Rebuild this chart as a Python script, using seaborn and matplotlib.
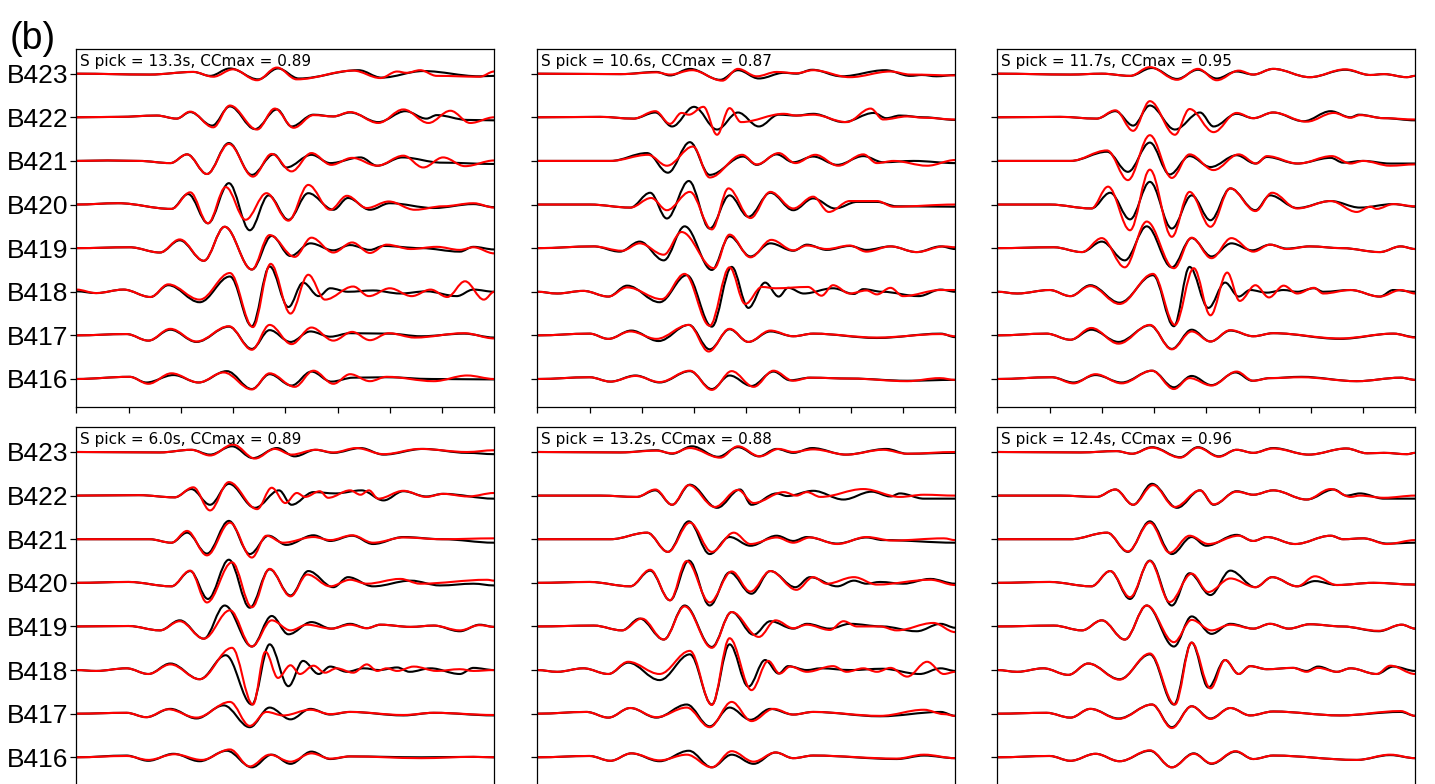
import matplotlib
matplotlib.use("Agg")
import matplotlib.pyplot as plt
from matplotlib.path import Path
from matplotlib.patches import PathPatch
import seaborn as sns

# ---------------------------------------------------------------- data ----
STATIONS = ["B416", "B417", "B418", "B419", "B420", "B421", "B422", "B423"]
S_PICKS = [13.3, 10.6, 11.7, 6.0, 13.2, 12.4]
CC_MAX = [0.89, 0.87, 0.95, 0.89, 0.88, 0.96]
TIME_TICKS = [0, 5, 10, 15, 20, 25, 30, 35, 40]

# each trace: (times of extrema [s], normalised amplitude at those extrema)
P1_OBS = {
    "B423": ([0, 7, 11.2, 12.8, 14.7, 17.4, 19.3, 21.3, 27.0, 29.2, 33.2, 38.6, 40],
             [0, -0.02, 0.04, -0.05, 0.12, -0.13, 0.12, -0.11, 0.08, -0.09, 0.06, -0.06, -0.05]),
    "B422": ([0, 4, 7.7, 9.6, 10.9, 13.0, 14.7, 17.1, 19.2, 20.6, 22.7, 24.6, 26.2, 28.9, 31.5, 33.5, 34.5, 37.4, 40],
             [0, 0.01, 0.04, -0.03, 0.12, -0.19, 0.25, -0.27, 0.18, -0.21, 0.06, 0.02, 0.11, -0.11, 0.14, -0.03, 0.05, -0.06, -0.07]),
    "B421": ([0, 3, 6, 9.0, 10.6, 12.5, 14.6, 16.8, 18.9, 20.1, 22.5, 24.3, 27.2, 28.8, 31.2, 35, 40],
             [0, 0.01, 0.0, -0.05, 0.15, -0.3, 0.41, -0.32, 0.15, -0.15, 0.14, -0.05, 0.08, -0.11, 0.08, -0.04, -0.07]),
    "B420": ([0, 4, 9.1, 10.7, 12.6, 14.6, 16.6, 18.4, 20.3, 22.2, 24.6, 26.0, 28.1, 30.0, 34.2, 38.0, 40],
             [0, 0.03, -0.1, 0.24, -0.43, 0.49, -0.59, 0.21, -0.35, 0.26, -0.12, 0.15, -0.12, 0.03, -0.08, 0.01, -0.06]),
    "B419": ([0, 5.1, 8.0, 9.9, 12.2, 14.2, 16.8, 18.7, 20.5, 22.4, 24.6, 26.2, 28.1, 29.4, 33, 36.7, 38.0, 40],
             [0, 0.02, -0.1, 0.18, -0.29, 0.49, -0.49, 0.28, -0.18, 0.11, -0.05, 0.07, -0.04, 0.05, 0.0, -0.08, 0.03, -0.03]),
    "B418": ([0, 1.9, 4.5, 7.1, 8.8, 11.8, 14.7, 16.8, 18.5, 20.3, 21.7, 23.2, 24.3, 26.0, 28.4, 31.0, 33.5, 36.4, 38.0, 40],
             [0.01, -0.03, 0.05, -0.12, 0.15, -0.24, 0.35, -0.79, 0.58, -0.35, 0.21, -0.1, 0.08, 0.0, 0.03, -0.04, 0.01, -0.1, 0.05, 0.0]),
    "B417": ([0, 4.8, 6.9, 9.0, 11.5, 14.6, 16.8, 18.5, 20.5, 22.4, 24.3, 26.2, 29.9, 33, 37.1, 40],
             [0, 0.03, -0.12, 0.13, -0.15, 0.2, -0.31, 0.12, -0.15, 0.09, -0.03, 0.05, 0.04, -0.02, 0.04, -0.05]),
    "B416": ([0, 5.1, 6.7, 9.3, 11.7, 14.4, 16.8, 18.5, 20.6, 22.5, 24.4, 26.5, 29.7, 34, 40],
             [0, 0.05, -0.08, 0.09, -0.08, 0.18, -0.23, 0.11, -0.15, 0.17, -0.06, 0.03, 0.04, 0.0, -0.01]),
}
P1_SYN = {
    "B423": ([0, 7, 11.2, 13.1, 15.0, 17.3, 19.2, 21.1, 26.5, 29.1, 30.7, 31.6, 32.9, 34.5, 38.6, 40],
             [0, -0.02, 0.04, -0.07, 0.1, -0.15, 0.14, -0.13, 0.07, -0.1, 0.05, 0.02, 0.08, -0.05, -0.07, 0.05]),
    "B422": ([0, 4, 7.7, 9.6, 10.9, 13.1, 14.7, 17.3, 19.0, 20.8, 22.7, 24.6, 26.2, 28.9, 31.3, 33.7, 35.8, 37.7, 40],
             [0, 0.01, 0.04, -0.03, 0.13, -0.23, 0.27, -0.28, 0.2, -0.24, 0.05, 0.02, 0.12, -0.13, 0.18, -0.13, 0.15, -0.13, 0.0]),
    "B421": ([0, 3, 6, 9.0, 10.6, 12.5, 14.6, 16.9, 18.7, 20.6, 22.5, 24.4, 26.4, 28.8, 31.3, 33.2, 35.1, 37.2, 40],
             [0, 0.01, 0.0, -0.05, 0.15, -0.3, 0.39, -0.36, 0.16, -0.24, 0.18, -0.09, 0.07, -0.11, 0.12, -0.15, 0.08, -0.12, 0.01]),
    "B420": ([0, 4, 9.1, 10.9, 12.6, 14.3, 16.2, 18.2, 20.3, 22.2, 24.3, 25.9, 27.8, 29.9, 32.4, 35.1, 38.0, 40],
             [0, 0.03, -0.1, 0.28, -0.43, 0.4, -0.35, 0.26, -0.37, 0.45, -0.12, 0.2, -0.08, 0.07, -0.12, -0.04, 0.03, -0.07]),
    "B419": ([0, 5.1, 8.0, 9.9, 12.2, 14.2, 16.8, 18.5, 20.9, 22.5, 24.6, 26.4, 28.1, 29.7, 32.0, 34.5, 36.7, 38.0, 40],
             [0, 0.02, -0.1, 0.2, -0.29, 0.49, -0.49, 0.3, -0.2, 0.24, -0.1, 0.13, -0.11, 0.08, -0.02, 0.03, -0.04, 0.02, -0.12]),
    "B418": ([0, 1.9, 4.5, 7.1, 8.8, 11.8, 14.7, 16.9, 18.6, 20.5, 22.2, 23.8, 26.5, 28.0, 30.0, 32.1, 33.9, 35.5, 37.2, 39.0, 40],
             [0.05, -0.03, 0.05, -0.12, 0.17, -0.18, 0.43, -0.81, 0.64, -0.5, 0.39, -0.18, 0.12, -0.1, 0.08, -0.1, 0.05, -0.12, 0.24, -0.18, 0.0]),
    "B417": ([0, 4.8, 6.9, 9.0, 11.5, 14.6, 16.8, 18.5, 20.6, 22.5, 24.6, 26.4, 28.1, 29.9, 32.4, 37.1, 40],
             [0, 0.03, -0.12, 0.15, -0.14, 0.21, -0.33, 0.24, -0.2, 0.18, -0.12, 0.08, -0.11, 0.05, -0.05, 0.05, -0.07]),
    "B416": ([0, 5.1, 6.9, 9.1, 11.7, 14.1, 16.8, 18.5, 20.9, 22.7, 24.6, 26.2, 28.1, 29.7, 34.2, 37.4, 40],
             [0, 0.05, -0.11, 0.13, -0.08, 0.15, -0.24, 0.13, -0.18, 0.19, -0.11, 0.11, -0.05, 0.05, -0.05, 0.08, 0.0]),
}

P2_OBS = {
    "B423": ([0, 8, 11.4, 12.7, 14.6, 17.5, 19.2, 21.2, 23.6, 24.8, 26.3, 29.1, 33.3, 35.7, 36.8, 38.2, 40],
             [0, -0.01, 0.04, -0.04, 0.11, -0.14, 0.08, -0.11, 0.02, 0.0, 0.09, -0.06, 0.08, -0.05, -0.03, -0.06, -0.03]),
    "B422": ([0, 6, 9.2, 11.3, 12.9, 15.0, 17.2, 19.2, 21.2, 23.1, 24.8, 26.4, 29.3, 32.2, 33.4, 34.7, 37.0, 40],
             [0, 0.01, -0.03, 0.11, -0.21, 0.24, -0.28, 0.11, -0.21, 0.06, 0.04, 0.08, -0.11, 0.1, -0.02, 0.04, 0.0, -0.06]),
    "B421": ([0, 7, 10.5, 12.5, 14.6, 16.5, 19.7, 21.0, 22.9, 24.5, 26.4, 28.7, 31.2, 33.1, 36, 40],
             [0, 0.0, 0.18, -0.27, 0.43, -0.32, 0.1, -0.09, 0.15, -0.03, 0.1, -0.09, 0.11, -0.03, 0.0, -0.05]),
    "B420": ([0, 5, 8.9, 10.8, 12.4, 14.5, 16.5, 18.4, 20.2, 22.3, 24.5, 26.4, 28.5, 30.6, 32.5, 34.4, 40],
             [0, 0.0, -0.07, 0.27, -0.32, 0.54, -0.55, 0.21, -0.28, 0.27, -0.13, 0.14, -0.09, 0.06, 0.06, -0.04, -0.05]),
    "B419": ([0, 5.4, 7.9, 9.8, 12.1, 14.1, 16.7, 18.4, 20.4, 22.3, 24.5, 25.8, 27.7, 29.9, 31.5, 33.8, 36.3, 38.6, 40],
             [0, 0.04, -0.08, 0.15, -0.28, 0.5, -0.5, 0.27, -0.19, 0.11, -0.06, 0.08, -0.04, 0.05, -0.04, 0.04, -0.09, 0.04, -0.02]),
    "B418": ([0, 1.9, 4.4, 6.8, 8.6, 11.7, 14.3, 16.7, 18.6, 20.2, 21.8, 23.1, 24.0, 25.5, 28.3, 30.3, 31.2, 33, 36.5, 38.6, 40],
             [0, -0.04, 0.02, -0.11, 0.14, -0.24, 0.38, -0.8, 0.57, -0.37, 0.21, -0.11, 0.09, -0.04, 0.08, -0.05, 0.06, 0.0, -0.1, 0.05, 0.0]),
    "B417": ([0, 5.0, 6.8, 9.0, 11.6, 14.5, 16.5, 18.4, 20.2, 22.3, 24.5, 26.4, 32.5, 38.6, 40],
             [0, 0.04, -0.08, 0.11, -0.13, 0.24, -0.32, 0.14, -0.15, 0.09, -0.02, 0.04, -0.06, 0.04, -0.04]),
    "B416": ([0, 5.0, 7.0, 9.4, 11.7, 14.6, 16.7, 18.4, 20.5, 22.6, 24.2, 26.1, 30, 35.4, 40],
             [0, 0.04, -0.06, 0.08, -0.08, 0.18, -0.23, 0.08, -0.16, 0.17, -0.03, 0.03, 0.01, -0.04, -0.02]),
}
P2_SYN = {
    "B423": ([0, 8, 11.4, 12.7, 14.8, 17.7, 19.2, 21.0, 22.9, 24.8, 26.4, 29.9, 33.8, 35.7, 40],
             [0, -0.01, 0.03, -0.02, 0.08, -0.16, 0.11, -0.06, 0.04, 0.01, 0.08, -0.08, 0.05, -0.02, -0.04]),
    "B422": ([0, 6, 9.2, 11.3, 12.7, 13.8, 14.5, 15.9, 17.2, 18.4, 19.5, 23.6, 24.8, 26.4, 29.6, 31.9, 33.1, 35.4, 37.0, 40],
             [0, 0.01, -0.03, 0.14, -0.15, 0.1, 0.06, 0.24, -0.4, 0.21, -0.11, 0.08, 0.04, 0.06, -0.11, 0.2, -0.05, 0.02, -0.01, -0.05]),
    "B421": ([0, 7, 10.6, 12.4, 14.9, 16.5, 19.6, 21.0, 23.1, 24.7, 26.6, 28.8, 31.2, 32.5, 34.1, 37.3, 40],
             [0, 0.0, 0.14, -0.11, 0.33, -0.38, 0.14, -0.08, 0.18, -0.05, 0.14, -0.11, 0.15, -0.05, 0.0, -0.11, 0.02]),
    "B420": ([0, 5, 8.9, 10.9, 12.4, 14.6, 16.7, 18.3, 20.4, 22.3, 24.5, 26.4, 27.9, 29.9, 32.5, 34.1, 40],
             [0, 0.0, -0.07, 0.15, -0.13, 0.29, -0.57, 0.37, -0.31, 0.29, -0.09, 0.18, -0.17, 0.08, 0.08, -0.05, 0.0]),
    "B419": ([0, 5.4, 8.1, 9.8, 12.1, 13.8, 16.9, 18.4, 20.4, 22.4, 24.5, 25.8, 27.7, 29.9, 31.5, 33.8, 36.3, 38.9, 40],
             [0, 0.04, -0.06, 0.11, -0.15, 0.37, -0.46, 0.31, -0.21, 0.19, -0.05, 0.06, -0.02, 0.06, -0.08, 0.04, -0.09, 0.04, 0.02]),
    "B418": ([0, 1.9, 4.4, 6.8, 8.6, 11.9, 14.1, 16.5, 18.4, 19.9, 21.5, 22.8, 25.9, 27.2, 28.3, 29.9, 31.5, 32.5, 33.8, 35.0, 38.6, 40],
             [0, -0.04, 0.02, -0.11, 0.1, -0.17, 0.41, -0.78, 0.56, -0.28, 0.11, 0.08, 0.11, -0.09, 0.15, -0.04, 0.03, -0.06, 0.09, -0.1, 0.04, 0.04]),
    "B417": ([0, 5.0, 6.8, 8.9, 11.4, 14.5, 16.4, 18.4, 20.2, 22.3, 24.5, 26.4, 32.5, 38.6, 40],
             [0, 0.04, -0.08, 0.09, -0.08, 0.24, -0.37, 0.15, -0.15, 0.11, -0.02, 0.04, -0.05, 0.03, -0.02]),
    "B416": ([0, 5.0, 7.0, 9.4, 11.7, 14.6, 16.7, 18.6, 20.7, 22.6, 24.5, 26.1, 30, 35.4, 38.5, 40],
             [0, 0.04, -0.06, 0.07, -0.07, 0.19, -0.25, 0.18, -0.18, 0.19, -0.04, 0.03, 0.01, -0.05, 0.02, -0.02]),
}

P3_OBS = {
    "B423": ([0, 7.0, 10, 12.7, 14.8, 17.2, 19.2, 21.0, 22.9, 24.5, 26.4, 29.9, 33.3, 35.7, 37, 39.2, 40],
             [0, -0.02, 0.0, -0.05, 0.13, -0.12, 0.09, -0.11, 0.05, -0.02, 0.11, -0.08, 0.09, -0.03, -0.01, -0.08, -0.05]),
    "B422": ([0, 6, 9.5, 11.3, 13.0, 14.6, 17.0, 19.4, 20.7, 22.9, 24.5, 26.4, 29.3, 31.9, 33.8, 34.6, 37.0, 40],
             [0, 0.01, -0.03, 0.14, -0.19, 0.27, -0.28, 0.11, -0.21, 0.08, -0.02, 0.11, -0.09, 0.14, 0.0, 0.06, -0.02, -0.07]),
    "B421": ([0, 7, 10.5, 12.5, 14.6, 16.5, 18.4, 20.4, 22.9, 24.7, 25.8, 28.7, 31.9, 33.1, 35, 37.6, 40],
             [0, 0.0, 0.21, -0.25, 0.42, -0.31, 0.11, -0.14, 0.13, -0.06, 0.09, -0.06, 0.07, -0.04, 0.0, -0.06, -0.06]),
    "B420": ([0, 5, 9.0, 10.8, 12.7, 14.6, 16.7, 18.6, 20.4, 22.3, 24.7, 26.1, 28.7, 31.9, 34.7, 37.9, 40],
             [0, 0.0, -0.09, 0.27, -0.34, 0.52, -0.55, 0.21, -0.36, 0.37, -0.13, 0.21, -0.08, 0.08, -0.07, 0.01, -0.05]),
    "B419": ([0, 5.4, 8.1, 10.0, 12.2, 14.3, 16.7, 18.6, 20.5, 22.4, 24.4, 26.1, 27.7, 29.9, 33, 36.6, 38.6, 40],
             [0, 0.02, -0.09, 0.15, -0.28, 0.5, -0.44, 0.23, -0.19, 0.11, -0.05, 0.08, -0.01, 0.04, 0.0, -0.09, 0.04, -0.02]),
    "B418": ([0, 1.9, 5.0, 7.0, 8.9, 11.7, 14.9, 16.9, 18.4, 20.2, 21.8, 23.1, 24.2, 25.8, 27.4, 28.7, 30.3, 31.2, 33.8, 36.6, 37.9, 40],
             [0, -0.04, 0.04, -0.1, 0.15, -0.25, 0.38, -0.79, 0.57, -0.37, 0.21, -0.11, 0.04, -0.02, 0.04, 0.0, 0.08, 0.0, 0.04, -0.11, 0.04, 0.0]),
    "B417": ([0, 4.7, 7.0, 9.0, 11.6, 14.6, 16.7, 18.6, 20.4, 22.3, 24.5, 26.4, 32.8, 37.9, 40],
             [0, 0.04, -0.1, 0.13, -0.15, 0.23, -0.31, 0.13, -0.14, 0.11, -0.02, 0.05, -0.08, 0.04, -0.04]),
    "B416": ([0, 5.2, 7.3, 9.4, 11.9, 14.8, 16.9, 18.6, 20.5, 22.8, 24.4, 26.1, 29.1, 34.4, 38.6, 40],
             [0, 0.04, -0.08, 0.09, -0.08, 0.19, -0.19, 0.07, -0.14, 0.15, -0.04, 0.02, 0.05, -0.05, 0.03, -0.02]),
}
P3_SYN = {
    "B423": ([0, 7.0, 10, 12.7, 14.6, 17.2, 19.2, 21.0, 23.1, 24.5, 26.4, 29.9, 33.3, 35.7, 37, 39.2, 40],
             [0, -0.02, 0.0, -0.05, 0.15, -0.14, 0.11, -0.15, 0.07, -0.02, 0.11, -0.08, 0.1, -0.03, -0.01, -0.08, -0.05]),
    "B422": ([0, 6, 9.5, 11.3, 13.0, 14.6, 17.0, 18.4, 20.7, 22.9, 24.5, 26.4, 29.6, 32.2, 33.8, 34.7, 37.0, 40],
             [0, 0.01, -0.03, 0.16, -0.31, 0.37, -0.4, 0.19, -0.34, 0.1, -0.02, 0.11, -0.1, 0.1, -0.01, 0.05, -0.02, -0.05]),
    "B421": ([0, 7, 10.5, 12.5, 14.6, 16.7, 18.4, 20.7, 23.1, 24.8, 25.8, 28.8, 32.0, 33.8, 35, 37.6, 40],
             [0, 0.0, 0.24, -0.44, 0.59, -0.39, 0.15, -0.21, 0.15, -0.06, 0.11, -0.06, 0.11, -0.06, 0.0, -0.11, -0.08]),
    "B420": ([0, 5, 9.0, 10.6, 12.7, 14.6, 16.7, 18.4, 20.4, 22.3, 24.7, 26.3, 28.7, 31.9, 34.4, 35.7, 36.3, 37.9, 40],
             [0, 0.0, -0.09, 0.41, -0.59, 0.8, -0.74, 0.29, -0.51, 0.37, -0.15, 0.27, -0.09, 0.08, -0.17, -0.05, -0.1, 0.01, -0.04]),
    "B419": ([0, 5.4, 8.1, 10.0, 12.2, 14.3, 16.9, 18.6, 20.5, 22.4, 24.5, 26.1, 27.7, 29.9, 33, 36.6, 38.6, 40],
             [0, 0.02, -0.09, 0.23, -0.44, 0.61, -0.46, 0.24, -0.23, 0.23, -0.08, 0.08, -0.02, 0.04, 0.0, -0.09, 0.04, -0.02]),
    "B418": ([0, 1.9, 5.0, 7.0, 8.9, 11.7, 14.9, 17.0, 18.8, 20.4, 22.0, 23.2, 24.7, 26.0, 27.4, 28.7, 30.3, 31.2, 33.8, 36.6, 38.6, 40],
             [0, -0.04, 0.04, -0.1, 0.13, -0.28, 0.41, -0.76, 0.54, -0.54, 0.44, -0.21, 0.15, -0.13, 0.14, -0.04, 0.09, -0.04, 0.04, -0.11, 0.04, -0.04]),
    "B417": ([0, 4.7, 7.0, 9.0, 11.6, 14.6, 16.7, 18.6, 20.4, 22.3, 24.5, 26.4, 32.8, 37.9, 40],
             [0, 0.04, -0.1, 0.17, -0.19, 0.24, -0.32, 0.09, -0.14, 0.12, -0.02, 0.05, -0.07, 0.04, -0.05]),
    "B416": ([0, 5.2, 7.3, 9.4, 11.9, 14.8, 16.9, 18.4, 20.5, 22.9, 24.5, 26.1, 29.1, 34.4, 38.6, 40],
             [0, 0.04, -0.1, 0.11, -0.1, 0.19, -0.23, 0.02, -0.15, 0.17, -0.04, 0.02, 0.04, -0.05, 0.03, -0.02]),
}

P4_OBS = {
    "B423": ([0, 8, 11.0, 12.8, 14.9, 16.9, 19.2, 20.9, 22.9, 24.6, 27.2, 29.4, 33.2, 37.4, 40],
             [0, -0.01, 0.05, -0.06, 0.13, -0.14, 0.09, -0.1, 0.05, -0.02, 0.09, -0.06, 0.07, -0.02, -0.05]),
    "B422": ([0, 6, 9.4, 11.0, 12.8, 14.6, 17.1, 19.4, 20.6, 22.7, 24.8, 27.3, 29.4, 31.3, 33.5, 35.1, 40],
             [0, 0.01, -0.04, 0.15, -0.21, 0.27, -0.28, 0.12, -0.21, 0.08, 0.05, 0.12, -0.11, 0.1, -0.02, 0.04, -0.07]),
    "B421": ([0, 7, 9.1, 10.6, 12.5, 14.6, 16.6, 18.4, 20.1, 22.7, 24.3, 26.4, 28.4, 31.3, 35, 40],
             [0, 0.0, -0.08, 0.15, -0.33, 0.42, -0.34, 0.08, -0.13, 0.09, -0.04, 0.08, -0.11, 0.05, 0.0, -0.08]),
    "B420": ([0, 5, 9.1, 10.9, 12.6, 14.6, 16.6, 18.5, 20.5, 22.2, 24.6, 26.0, 28.4, 32.0, 34.8, 38.0, 40],
             [0, 0.02, -0.08, 0.27, -0.37, 0.53, -0.57, 0.31, -0.29, 0.27, -0.1, 0.13, -0.08, 0.05, -0.06, -0.02, -0.06]),
    "B419": ([0, 5, 8.0, 9.9, 12.2, 14.2, 16.8, 18.7, 20.3, 22.5, 24.4, 26.2, 27.8, 29.1, 32.0, 34.2, 36.7, 38.6, 40],
             [0, 0.01, -0.09, 0.14, -0.28, 0.48, -0.46, 0.24, -0.18, 0.1, -0.05, 0.06, -0.04, 0.04, -0.01, 0.02, -0.11, 0.04, -0.01]),
    "B418": ([0, 1.9, 4.8, 6.9, 9.0, 11.8, 14.3, 16.8, 18.5, 20.3, 21.7, 23.2, 24.3, 25.9, 27.5, 29.0, 30.7, 31.9, 33.9, 36.7, 38.0, 40],
             [0, -0.02, 0.04, -0.09, 0.15, -0.21, 0.34, -0.79, 0.59, -0.37, 0.21, -0.09, 0.08, -0.04, 0.04, 0.0, 0.06, -0.04, 0.04, -0.09, 0.05, 0.0]),
    "B417": ([0, 4.8, 6.7, 9.0, 11.5, 14.1, 16.6, 18.5, 20.5, 22.4, 24.3, 26.2, 31.3, 34.2, 40],
             [0, 0.02, -0.08, 0.11, -0.11, 0.19, -0.31, 0.14, -0.13, 0.11, -0.02, 0.04, -0.04, 0.02, -0.04]),
    "B416": ([0, 4.8, 6.9, 9.3, 11.8, 14.4, 16.8, 18.7, 20.5, 22.5, 24.3, 26.2, 33, 38, 40],
             [0, 0.04, -0.08, 0.08, -0.09, 0.15, -0.23, 0.06, -0.15, 0.13, -0.04, 0.02, 0.0, 0.01, 0.0]),
}
P4_SYN = {
    "B423": ([0, 8, 11.0, 12.8, 15.0, 17.1, 19.0, 20.6, 22.9, 24.6, 26.8, 29.4, 32.9, 37.4, 40],
             [0, -0.01, 0.05, -0.08, 0.17, -0.15, 0.07, -0.06, 0.05, -0.01, 0.09, -0.05, 0.07, 0.0, 0.04]),
    "B422": ([0, 6, 9.4, 11.2, 12.8, 14.6, 17.3, 18.7, 20.0, 21.1, 21.9, 23.3, 24.1, 26.2, 27.2, 28.0, 28.9, 31.3, 33.5, 35.1, 37.5, 40],
             [0, 0.01, -0.04, 0.19, -0.34, 0.31, -0.31, 0.18, -0.17, 0.06, -0.03, 0.1, -0.05, 0.12, 0.02, 0.12, -0.07, 0.11, -0.03, 0.04, -0.02, 0.06]),
    "B421": ([0, 7, 9.1, 10.6, 12.5, 14.7, 16.8, 18.2, 19.8, 22.7, 24.3, 26.4, 28.4, 31.3, 35, 40],
             [0, 0.0, -0.08, 0.19, -0.37, 0.38, -0.42, 0.08, -0.08, 0.05, -0.02, 0.09, -0.08, 0.04, 0.0, 0.02]),
    "B420": ([0, 5, 9.1, 10.9, 12.5, 14.9, 16.8, 18.5, 20.5, 22.1, 24.3, 26.2, 27.8, 31.0, 32.9, 39.3, 40],
             [0, 0.02, -0.08, 0.28, -0.45, 0.47, -0.56, 0.32, -0.31, 0.19, -0.08, 0.07, -0.02, 0.09, -0.02, 0.07, 0.05]),
    "B419": ([0, 5, 8.0, 9.9, 12.2, 14.7, 16.8, 18.7, 20.5, 22.1, 24.4, 26.2, 27.8, 29.1, 32.0, 34.2, 36.7, 38.6, 40],
             [0, 0.01, -0.09, 0.12, -0.28, 0.37, -0.46, 0.14, -0.09, 0.04, -0.05, 0.04, -0.04, 0.04, -0.01, 0.02, -0.09, 0.03, -0.01]),
    "B418": ([0, 1.9, 4.8, 6.9, 9.0, 11.8, 14.9, 16.9, 18.1, 19.3, 20.5, 21.4, 22.7, 23.8, 24.9, 26.5, 27.8, 28.8, 29.7, 30.7, 32.3, 34.5, 36.7, 38.0, 40],
             [0, -0.02, 0.04, -0.09, 0.13, -0.21, 0.51, -0.79, 0.42, -0.18, 0.11, -0.09, 0.1, -0.06, 0.04, -0.06, 0.13, -0.02, 0.04, -0.02, 0.08, -0.02, 0.02, -0.02, 0.0]),
    "B417": ([0, 4.8, 6.7, 8.8, 11.5, 14.7, 16.6, 18.2, 19.8, 22.4, 24.3, 26.2, 31.3, 34.2, 40],
             [0, 0.02, -0.08, 0.1, -0.09, 0.27, -0.28, 0.04, -0.04, 0.09, -0.01, 0.04, -0.03, 0.02, -0.03]),
    "B416": ([0, 4.8, 6.9, 9.4, 12.0, 14.7, 16.6, 18.5, 20.5, 22.5, 24.3, 26.2, 33, 38, 40],
             [0, 0.03, -0.06, 0.07, -0.06, 0.18, -0.21, 0.06, -0.1, 0.09, -0.03, 0.02, -0.02, 0.01, 0.0]),
}

P5_OBS = {
    "B423": ([0, 8, 11.4, 12.9, 14.8, 17.3, 19.2, 21.2, 22.9, 24.5, 26.3, 29.5, 33.4, 35.4, 40],
             [0, -0.01, 0.04, -0.04, 0.13, -0.11, 0.11, -0.1, 0.07, -0.02, 0.09, -0.06, 0.07, -0.04, -0.02]),
    "B422": ([0, 6, 9.5, 11.3, 12.9, 14.6, 17.2, 19.4, 20.5, 22.9, 23.9, 26.4, 29.3, 32.0, 33.8, 34.7, 37.0, 40],
             [0, 0.0, -0.03, 0.12, -0.21, 0.25, -0.28, 0.14, -0.21, 0.05, -0.01, 0.11, -0.09, 0.09, -0.02, 0.05, -0.07, -0.07]),
    "B421": ([0, 7, 10.5, 12.5, 14.5, 16.5, 18.4, 20.4, 22.9, 24.5, 25.8, 28.7, 31.5, 33.1, 40],
             [0, 0.0, 0.15, -0.29, 0.41, -0.34, 0.05, -0.15, 0.08, -0.04, 0.05, -0.1, 0.04, -0.02, -0.08]),
    "B420": ([0, 5, 8.9, 10.8, 12.7, 14.5, 16.5, 18.4, 20.5, 22.3, 24.7, 26.1, 28.7, 30.3, 31.5, 32.8, 35, 37.6, 40],
             [0, 0.02, -0.08, 0.28, -0.4, 0.51, -0.52, 0.24, -0.25, 0.27, -0.1, 0.13, -0.08, 0.05, -0.02, 0.02, -0.02, 0.09, -0.02]),
    "B419": ([0, 5.4, 8.1, 9.8, 12.1, 14.1, 16.7, 18.6, 20.7, 22.3, 24.5, 25.8, 28.0, 29.9, 33, 36.3, 38.6, 40],
             [0, 0.02, -0.09, 0.18, -0.3, 0.48, -0.47, 0.33, -0.19, 0.12, -0.05, 0.06, -0.05, 0.06, 0.0, -0.11, 0.06, -0.03]),
    "B418": ([0, 1.9, 4.4, 6.8, 8.7, 11.7, 14.6, 16.7, 18.4, 20.2, 21.8, 23.1, 24.0, 25.8, 27.1, 30, 33, 36.6, 38.6, 40],
             [0, -0.04, 0.04, -0.09, 0.17, -0.23, 0.36, -0.79, 0.59, -0.38, 0.23, -0.08, 0.09, 0.0, 0.04, 0.0, 0.03, -0.09, 0.04, -0.02]),
    "B417": ([0, 4.7, 6.8, 8.9, 11.4, 14.3, 16.5, 18.4, 20.4, 22.3, 24.5, 26.4, 32.8, 38.6, 40],
             [0, 0.04, -0.09, 0.13, -0.09, 0.21, -0.29, 0.14, -0.14, 0.11, -0.02, 0.04, -0.06, 0.04, -0.05]),
    "B416": ([0, 5.0, 7.0, 9.0, 11.7, 14.5, 16.7, 18.6, 20.7, 22.8, 24.5, 26.4, 34.4, 37.0, 40],
             [0, 0.03, -0.08, 0.09, -0.09, 0.15, -0.23, 0.06, -0.15, 0.11, -0.02, 0.04, -0.04, 0.04, -0.02]),
}
P5_SYN = {
    "B423": ([0, 8, 11.4, 12.9, 14.6, 17.5, 19.2, 21.3, 23.1, 24.5, 26.4, 29.6, 33.1, 35.4, 40],
             [0, -0.01, 0.03, -0.03, 0.09, -0.13, 0.13, -0.1, 0.07, 0.0, 0.06, -0.06, 0.05, -0.04, 0.0]),
    "B422": ([0, 6, 9.5, 11.3, 12.9, 14.5, 17.0, 19.2, 20.7, 23.6, 24.8, 25.8, 27.1, 31.2, 34.7, 37.0, 40],
             [0, 0.0, -0.03, 0.14, -0.21, 0.24, -0.26, 0.13, -0.17, 0.08, 0.0, 0.08, -0.03, 0.15, -0.03, 0.02, 0.0]),
    "B421": ([0, 7, 10.5, 12.5, 14.6, 16.7, 18.8, 20.4, 22.9, 24.5, 26.1, 28.7, 31.5, 34, 38.9, 40],
             [0, 0.0, 0.15, -0.29, 0.38, -0.29, 0.15, -0.11, 0.04, -0.08, 0.04, -0.11, 0.05, -0.03, 0.02, -0.02]),
    "B420": ([0, 5, 8.9, 10.8, 12.7, 14.3, 16.5, 18.6, 20.4, 22.3, 24.8, 26.4, 27.7, 30.3, 32.5, 37.6, 40],
             [0, 0.02, -0.08, 0.3, -0.4, 0.5, -0.45, 0.26, -0.2, 0.27, -0.16, 0.13, -0.02, 0.13, -0.04, 0.07, -0.05]),
    "B419": ([0, 5.4, 8.1, 10.0, 12.1, 14.1, 16.7, 18.6, 21.2, 22.8, 24.5, 25.8, 28.0, 29.3, 30.6, 32.8, 34.4, 37.9, 40],
             [0, 0.02, -0.09, 0.18, -0.3, 0.46, -0.49, 0.33, -0.24, 0.14, -0.04, 0.04, -0.08, 0.12, 0.0, 0.0, -0.09, 0.08, -0.13]),
    "B418": ([0, 1.9, 4.4, 6.8, 8.7, 11.7, 14.6, 16.7, 18.4, 20.5, 22.1, 23.2, 24.2, 25.8, 28.3, 29.6, 31.2, 32.5, 33.8, 35.4, 37.3, 38.9, 40],
             [0, -0.04, 0.04, -0.09, 0.19, -0.09, 0.44, -0.8, 0.73, -0.46, 0.21, -0.08, 0.08, -0.04, 0.09, -0.04, 0.04, -0.04, 0.05, -0.15, 0.19, -0.09, -0.04]),
    "B417": ([0, 4.7, 6.8, 8.9, 11.4, 14.3, 16.5, 18.6, 20.5, 22.6, 24.5, 26.4, 32.8, 37.0, 38.9, 40],
             [0, 0.04, -0.09, 0.13, -0.08, 0.14, -0.31, 0.27, -0.17, 0.11, -0.02, 0.04, -0.05, 0.09, -0.01, -0.05]),
    "B416": ([0, 5.0, 7.0, 9.0, 11.7, 14.3, 16.7, 18.6, 20.7, 22.8, 24.5, 26.4, 34.4, 37.0, 40],
             [0, 0.03, -0.08, 0.09, -0.07, 0.06, -0.23, 0.14, -0.1, 0.11, -0.02, 0.04, -0.03, 0.06, -0.02]),
}

P6_OBS = {
    "B423": ([0, 8, 11.4, 12.9, 14.8, 17.5, 19.2, 21.2, 22.9, 24.5, 26.4, 29.8, 33.4, 35.4, 37, 39.2, 40],
             [0, -0.01, 0.02, -0.04, 0.11, -0.12, 0.11, -0.1, 0.05, -0.02, 0.09, -0.06, 0.08, -0.03, -0.02, -0.05, -0.02]),
    "B422": ([0, 6, 9.5, 11.3, 13.0, 14.8, 17.2, 19.4, 20.7, 22.9, 24.5, 26.4, 29.6, 32.2, 33.4, 34.7, 37.0, 40],
             [0, 0.0, -0.03, 0.14, -0.21, 0.27, -0.28, 0.12, -0.21, 0.1, 0.02, 0.12, -0.09, 0.14, 0.0, 0.05, -0.07, -0.07]),
    "B421": ([0, 7, 10.5, 12.5, 14.6, 16.7, 18.6, 20.0, 22.9, 24.5, 25.8, 28.5, 31.9, 33.1, 35.0, 37.3, 40],
             [0, 0.0, 0.15, -0.29, 0.41, -0.34, 0.05, -0.15, 0.1, -0.04, 0.05, -0.11, 0.08, 0.0, 0.02, -0.1, -0.08]),
    "B420": ([0, 5, 9.0, 10.8, 12.7, 14.6, 16.7, 18.4, 20.4, 22.3, 24.7, 26.3, 28.7, 30.4, 32.5, 36, 40],
             [0, 0.02, -0.08, 0.27, -0.37, 0.51, -0.52, 0.22, -0.28, 0.28, -0.1, 0.13, -0.08, 0.04, -0.05, 0.0, -0.04]),
    "B419": ([0, 5.4, 8.1, 10.0, 12.2, 14.3, 16.9, 18.6, 20.5, 22.3, 24.5, 26.1, 27.9, 29.9, 33, 36.5, 38.7, 40],
             [0, 0.02, -0.09, 0.14, -0.3, 0.48, -0.46, 0.23, -0.17, 0.06, -0.05, 0.06, -0.05, 0.05, 0.0, -0.11, 0.04, -0.05]),
    "B418": ([0, 1.9, 4.4, 6.8, 8.7, 11.7, 14.6, 16.9, 18.6, 20.2, 21.8, 23.1, 24.2, 25.8, 28.3, 29.6, 30.7, 32.5, 33.8, 36.3, 37.9, 40],
             [0, -0.04, 0.04, -0.11, 0.15, -0.21, 0.36, -0.79, 0.63, -0.4, 0.23, -0.09, 0.09, 0.02, 0.05, -0.02, 0.08, -0.04, 0.04, -0.09, 0.08, -0.02]),
    "B417": ([0, 4.7, 7.0, 8.9, 11.6, 14.8, 16.7, 18.6, 20.4, 22.3, 24.2, 26.4, 32.8, 38.6, 40],
             [0, 0.02, -0.09, 0.11, -0.11, 0.21, -0.31, 0.17, -0.11, 0.13, -0.04, 0.05, -0.04, 0.04, -0.05]),
    "B416": ([0, 5.0, 7.0, 9.4, 11.7, 14.6, 16.7, 18.8, 20.5, 22.8, 24.5, 26.4, 34.4, 37.6, 40],
             [0, 0.03, -0.08, 0.08, -0.09, 0.15, -0.23, 0.09, -0.15, 0.13, -0.04, 0.04, -0.06, 0.05, -0.02]),
}
P6_SYN = {
    "B423": ([0, 8, 11.4, 12.9, 14.8, 17.5, 19.2, 21.2, 22.9, 24.5, 26.4, 29.8, 33.4, 35.4, 37, 39.2, 40],
             [0, -0.01, 0.02, -0.04, 0.1, -0.13, 0.1, -0.11, 0.05, -0.02, 0.08, -0.06, 0.08, -0.03, -0.02, -0.05, -0.02]),
    "B422": ([0, 6, 9.5, 11.3, 13.0, 14.9, 17.0, 19.4, 20.7, 22.9, 24.5, 26.4, 29.6, 31.9, 33.8, 34.7, 37.0, 40],
             [0, 0.0, -0.03, 0.14, -0.21, 0.24, -0.26, 0.12, -0.2, 0.09, 0.02, 0.12, -0.09, 0.15, -0.03, 0.0, -0.05, 0.0]),
    "B421": ([0, 7, 10.5, 12.5, 14.6, 16.5, 18.4, 20.2, 23.1, 24.5, 25.8, 28.5, 31.9, 33.1, 35.0, 37.3, 40],
             [0, 0.0, 0.15, -0.28, 0.38, -0.31, 0.08, -0.11, 0.08, -0.04, 0.05, -0.11, 0.08, 0.0, 0.02, -0.11, -0.02]),
    "B420": ([0, 5, 9.0, 10.8, 12.7, 14.6, 16.5, 18.6, 20.2, 22.3, 24.7, 26.3, 28.7, 30.4, 32.5, 36, 40],
             [0, 0.02, -0.08, 0.27, -0.33, 0.5, -0.44, 0.21, -0.21, 0.1, -0.1, 0.13, -0.08, 0.15, -0.05, 0.0, -0.04]),
    "B419": ([0, 5.4, 8.1, 10.0, 12.2, 14.3, 16.9, 18.6, 20.5, 22.3, 24.5, 26.1, 27.9, 29.9, 33, 36.5, 38.7, 40],
             [0, 0.02, -0.09, 0.14, -0.3, 0.48, -0.36, 0.15, -0.09, 0.04, -0.05, 0.06, -0.05, 0.05, 0.0, -0.1, 0.04, -0.05]),
    "B418": ([0, 1.9, 4.4, 6.8, 8.7, 11.7, 14.6, 17.0, 18.6, 20.4, 21.8, 23.1, 24.2, 25.8, 28.3, 29.6, 30.7, 32.5, 33.8, 36.3, 37.6, 40],
             [0, -0.04, 0.04, -0.11, 0.15, -0.22, 0.38, -0.79, 0.63, -0.42, 0.23, -0.09, 0.09, 0.02, 0.05, -0.04, 0.05, -0.04, 0.04, -0.09, 0.1, -0.09]),
    "B417": ([0, 4.7, 7.0, 8.9, 11.6, 14.8, 16.7, 18.6, 20.4, 22.3, 24.2, 26.4, 32.8, 38.6, 40],
             [0, 0.02, -0.09, 0.11, -0.12, 0.21, -0.33, 0.17, -0.12, 0.13, -0.04, 0.05, -0.04, 0.06, -0.05]),
    "B416": ([0, 5.0, 7.0, 9.4, 11.7, 14.6, 16.7, 18.8, 20.5, 22.8, 24.5, 26.4, 34.4, 37.6, 40],
             [0, 0.03, -0.08, 0.08, -0.09, 0.16, -0.23, 0.08, -0.14, 0.14, -0.04, 0.04, -0.06, 0.06, -0.02]),
}

PANELS = [(P1_OBS, P1_SYN), (P2_OBS, P2_SYN), (P3_OBS, P3_SYN),
          (P4_OBS, P4_SYN), (P5_OBS, P5_SYN), (P6_OBS, P6_SYN)]

# --------------------------------------------------------------- style ----
sns.set_theme(style="ticks", rc={
    "axes.linewidth": 0.9,
    "axes.edgecolor": "black",
    "xtick.color": "black",
    "ytick.color": "black",
    "text.color": "black",
    "axes.labelcolor": "black",
})
plt.rcParams["font.family"] = ["DejaVu Sans"]

OBS_COLOR = "black"
SYN_COLOR = "#ff0000"
LW = 1.5
HANDLE = 0.36  # cubic handle length for smooth wiggle between extrema


def wiggle_path(times, amps, base):
    """Smooth Bezier path through the extrema (horizontal tangents)."""
    verts = [(times[0], base + amps[0])]
    codes = [Path.MOVETO]
    for i in range(1, len(times)):
        t0, a0 = times[i - 1], amps[i - 1]
        t1, a1 = times[i], amps[i]
        dt = t1 - t0
        verts += [(t0 + HANDLE * dt, base + a0),
                  (t1 - HANDLE * dt, base + a1),
                  (t1, base + a1)]
        codes += [Path.CURVE4] * 3
    return Path(verts, codes)


# -------------------------------------------------------------- figure ----
W, H = 1435, 784
fig = plt.figure(figsize=(W / 100, H / 100), dpi=100)

col_left_px = [76.3, 537.3, 997.3]
row_top_px = [49.0, 427.3]
ax_w_px, ax_h_px = 418.0, 358.3

for idx, (obs, syn) in enumerate(PANELS):
    r, c = divmod(idx, 3)
    left = col_left_px[c] / W
    bottom = 1 - (row_top_px[r] + ax_h_px) / H
    ax = fig.add_axes([left, bottom, ax_w_px / W, ax_h_px / H])

    for data, color in ((obs, OBS_COLOR), (syn, SYN_COLOR)):
        for k, st in enumerate(STATIONS):
            times, amps = data[st]
            ax.add_patch(PathPatch(wiggle_path(times, amps, k), fill=False,
                                   edgecolor=color, lw=LW,
                                   joinstyle="round", capstyle="round"))

    ax.set_xlim(TIME_TICKS[0], TIME_TICKS[-1])
    ax.set_ylim(-0.649, 7.566)
    ax.set_xticks(TIME_TICKS)
    ax.set_xticklabels([])
    ax.set_yticks(range(len(STATIONS)))
    if c == 0:
        ax.set_yticklabels(STATIONS, fontfamily="Liberation Sans",
                           fontsize=19, color="black")
    else:
        ax.set_yticklabels([])
    ax.tick_params(direction="out", length=4.5, width=0.9, pad=1,
                   colors="black")
    for sp in ax.spines.values():
        sp.set_visible(True)
        sp.set_color("black")

    ax.annotate(f"S pick = {S_PICKS[idx]:.1f}s, CCmax = {CC_MAX[idx]:.2f}",
                xy=(0, 1), xycoords="axes fraction", xytext=(2.5, -3.5),
                textcoords="offset points", ha="left", va="top",
                fontsize=11, color="black")

fig.text(10 / W, 1 - 48.8 / H, "(b)", fontfamily="Liberation Sans",
         fontsize=27, ha="left", va="baseline", color="black")

fig.savefig("out.png", dpi=100)
